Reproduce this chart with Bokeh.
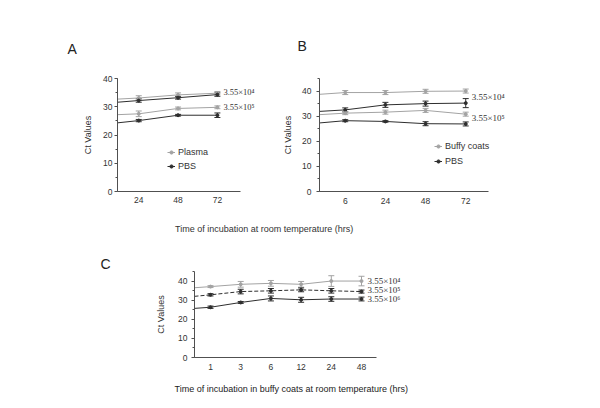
from bokeh.plotting import figure
from bokeh.models import (Range1d, FixedTicker, SingleIntervalTicker, Whisker, TeeHead,
                          ColumnDataSource, Label, Legend, LegendItem, Title, Div)
from bokeh.layouts import column, row
from bokeh.embed import file_html
from bokeh.resources import INLINE

GRAY = "#a3a3a3"
DARK = "#2e2e2e"
AXIS = "#505050"
SANS = "Liberation Sans"
SERIF = "Liberation Serif"

# ---------------- Panel A data ----------------
A_TIMES = [24, 48, 72]
A_PLASMA_1E4_START = 32.7
A_PLASMA_1E4 = [33.1, 34.2, 34.8]
A_PLASMA_1E4_ERR = [0.8, 0.7, 0.6]
A_PBS_1E4_START = 31.6
A_PBS_1E4 = [32.2, 33.2, 34.3]
A_PBS_1E4_ERR = [0.6, 0.5, 0.6]
A_PLASMA_1E5_START = 27.2
A_PLASMA_1E5 = [27.5, 29.4, 29.8]
A_PLASMA_1E5_ERR = [1.0, 0.5, 0.5]
A_PBS_1E5_START = 24.3
A_PBS_1E5 = [25.1, 27.0, 27.0]
A_PBS_1E5_ERR = [0.4, 0.3, 0.8]

# ---------------- Panel B data ----------------
B_TIMES = [6, 24, 48, 72]
B_BUFFY_1E4_START = 38.7
B_BUFFY_1E4 = [39.4, 39.4, 39.9, 40.0]
B_BUFFY_1E4_ERR = [0.8, 0.8, 0.8, 0.8]
B_PBS_1E4_START = 31.9
B_PBS_1E4 = [32.5, 34.5, 35.0, 35.2]
B_PBS_1E4_ERR = [0.8, 1.0, 1.0, 1.8]
B_BUFFY_1E5_START = 30.6
B_BUFFY_1E5 = [31.2, 31.6, 32.3, 30.8]
B_BUFFY_1E5_ERR = [0.6, 0.8, 0.8, 0.8]
B_PBS_1E5_START = 27.3
B_PBS_1E5 = [28.2, 27.9, 27.0, 26.9]
B_PBS_1E5_ERR = [0.4, 0.3, 0.8, 0.8]

# ---------------- Panel C data ----------------
C_TIMES = [1, 3, 6, 12, 24, 48]
C_1E4_START = 36.5
C_1E4 = [37.1, 38.3, 38.8, 38.3, 40.0, 40.0]
C_1E4_ERR = [0.5, 1.5, 1.5, 1.5, 2.8, 2.5]
C_1E5_START = 32.0
C_1E5 = [32.8, 34.5, 34.9, 35.4, 34.9, 34.5]
C_1E5_ERR = [0.6, 1.2, 1.2, 1.0, 1.2, 0.8]
C_1E6_START = 25.7
C_1E6 = [26.3, 28.8, 30.9, 30.2, 30.6, 30.6]
C_1E6_ERR = [0.6, 0.5, 1.3, 1.3, 1.2, 1.0]

CONC_LABELS = ["3.55×10⁴", "3.55×10⁵", "3.55×10⁶"]
Y_LABEL = "Ct Values"
X_LABEL_AB = "Time of incubation at room temperature (hrs)"
X_LABEL_C = "Time of incubation in buffy coats at room temperature (hrs)"


def make_fig(width, height, bl, br, bt, bb, xr, axis_end, yend, times, tick_std, lab_std, ylab_std):
    p = figure(width=width, height=height, output_backend="svg", toolbar_location=None,
               x_range=Range1d(*xr), y_range=Range1d(0, yend),
               min_border_left=bl, min_border_right=br, min_border_top=bt, min_border_bottom=bb)
    p.outline_line_color = None
    p.xgrid.grid_line_color = None
    p.ygrid.grid_line_color = None
    p.background_fill_color = "white"
    p.border_fill_color = "white"
    xs = list(range(1, len(times) + 1))
    xa = p.xaxis[0]
    xa.bounds = (xr[0], axis_end)
    xa.ticker = FixedTicker(ticks=xs)
    xa.major_label_overrides = {x: str(t) for x, t in zip(xs, times)}
    xa.major_tick_out = 0
    xa.major_tick_in = 0
    xa.major_label_standoff = lab_std
    ya = p.yaxis[0]
    ya.ticker = SingleIntervalTicker(interval=10, num_minor_ticks=2)
    ya.major_tick_out = 3
    ya.major_tick_in = 0
    ya.minor_tick_out = 2
    ya.minor_tick_in = 0
    ya.major_label_standoff = tick_std
    ya.axis_label = Y_LABEL
    ya.axis_label_standoff = ylab_std
    for ax in (xa, ya):
        ax.axis_line_color = AXIS
        ax.major_tick_line_color = AXIS
        ax.minor_tick_line_color = AXIS if ax is ya else None
        ax.major_label_text_font = SANS
        ax.major_label_text_font_size = "8.5px"
        ax.major_label_text_color = "#333333"
        ax.axis_label_text_font = SANS
        ax.axis_label_text_font_size = "9px"
        ax.axis_label_text_font_style = "normal"
        ax.axis_label_text_color = "#333333"
    return p


def series(p, n, start, vals, errs, color, dash="solid"):
    xs = list(range(1, n + 1))
    x0 = p.x_range.start
    ln = p.line([x0] + xs, [start] + vals, line_color=color, line_width=1, line_dash=dash)
    src = ColumnDataSource(dict(x=xs, upper=[v + e for v, e in zip(vals, errs)],
                                lower=[v - e for v, e in zip(vals, errs)]))
    w = Whisker(base="x", upper="upper", lower="lower", source=src, line_color=color, line_width=1,
                upper_head=TeeHead(size=6, line_color=color, line_width=1),
                lower_head=TeeHead(size=6, line_color=color, line_width=1))
    p.add_layout(w)
    sc = p.scatter(xs, vals, marker="circle", size=3, color=color)
    return ln, sc


def conc_label(p, x, y, text, size="9px", yoff=0, xoff=6):
    p.add_layout(Label(x=x, y=y, text=text, x_offset=xoff, y_offset=yoff, text_font=SERIF,
                       text_font_size=size, text_color="#333333", text_baseline="middle"))


def letter(p, text, offset, standoff, side="above", size="14px", valign="bottom"):
    p.add_layout(Title(text=text, align="left", offset=offset, standoff=standoff,
                       vertical_align=valign, text_font=SANS, text_font_size=size,
                       text_font_style="normal", text_color="#222222"), side)


def legend(p, items, loc, spacing):
    lg = Legend(items=items, location=loc, padding=0, margin=0, spacing=spacing,
                glyph_width=8, glyph_height=10, label_height=10, label_standoff=3,
                label_text_font=SANS, label_text_font_size="9px", label_text_color="#333333",
                border_line_color=None, background_fill_alpha=0)
    p.add_layout(lg)


# ---------------- Panel A ----------------
pA = make_fig(280, 212, 117, 10, 78, 20, (0.46, 4.35), 3.59, 40, A_TIMES, 2, 5, 7)
nA = len(A_TIMES)
a1 = series(pA, nA, A_PLASMA_1E4_START, A_PLASMA_1E4, A_PLASMA_1E4_ERR, GRAY)
a2 = series(pA, nA, A_PBS_1E4_START, A_PBS_1E4, A_PBS_1E4_ERR, DARK)
series(pA, nA, A_PLASMA_1E5_START, A_PLASMA_1E5, A_PLASMA_1E5_ERR, GRAY)
series(pA, nA, A_PBS_1E5_START, A_PBS_1E5, A_PBS_1E5_ERR, DARK)
conc_label(pA, nA, A_PLASMA_1E4[-1], CONC_LABELS[0], size="8.5px", xoff=6, yoff=1)
conc_label(pA, nA, A_PLASMA_1E5[-1], CONC_LABELS[1], size="8.5px", xoff=6, yoff=0)
legend(pA, [LegendItem(label="Plasma", renderers=list(a1)),
            LegendItem(label="PBS", renderers=list(a2))], (50, 20), 4)
letter(pA, "A", -50, 44)

# ---------------- Panel B ----------------
pB = make_fig(320, 212, 37, 83, 77, 21, (0.359, 5.289), 4.574, 45, B_TIMES, 5, 6, 6)
nB = len(B_TIMES)
b1 = series(pB, nB, B_BUFFY_1E4_START, B_BUFFY_1E4, B_BUFFY_1E4_ERR, GRAY)
b2 = series(pB, nB, B_PBS_1E4_START, B_PBS_1E4, B_PBS_1E4_ERR, DARK)
series(pB, nB, B_BUFFY_1E5_START, B_BUFFY_1E5, B_BUFFY_1E5_ERR, GRAY)
series(pB, nB, B_PBS_1E5_START, B_PBS_1E5, B_PBS_1E5_ERR, DARK)
conc_label(pB, nB, B_PBS_1E4[-1], CONC_LABELS[0], xoff=6, yoff=6)
conc_label(pB, nB, B_BUFFY_1E5[-1], CONC_LABELS[1], xoff=6, yoff=-4)
legend(pB, [LegendItem(label="Buffy coats", renderers=list(b1)),
            LegendItem(label="PBS", renderers=list(b2))], (115, 25), 5)
letter(pB, "B", -22, 50)

# ---------------- shared x label for A and B ----------------
mid = Div(text=X_LABEL_AB, width=600, height=30, margin=0,
          styles={"font-family": SANS, "font-size": "9px", "color": "#333333",
                  "padding-left": "175px", "padding-top": "12px", "line-height": "10px",
                  "box-sizing": "border-box", "white-space": "nowrap"})

# ---------------- Panel C ----------------
pC = make_fig(600, 164, 194, 190, 29, 48, (0.47, 7.622), 6.487, 45, C_TIMES, 4, 6, 9)
nC = len(C_TIMES)
series(pC, nC, C_1E4_START, C_1E4, C_1E4_ERR, GRAY)
series(pC, nC, C_1E5_START, C_1E5, C_1E5_ERR, DARK, dash="4 2")
series(pC, nC, C_1E6_START, C_1E6, C_1E6_ERR, DARK)
conc_label(pC, nC, C_1E4[-1], CONC_LABELS[0], xoff=6, yoff=0)
conc_label(pC, nC, C_1E5[-1], CONC_LABELS[1], xoff=6, yoff=2)
conc_label(pC, nC, C_1E6[-1], CONC_LABELS[2], xoff=6, yoff=0)
letter(pC, "C", -94, 0)
letter(pC, X_LABEL_C, -20, 22, side="below", size="9px", valign="top")

layout = column(row(pA, pB), mid, pC)
open("out.html", "w").write(file_html(layout, INLINE))
